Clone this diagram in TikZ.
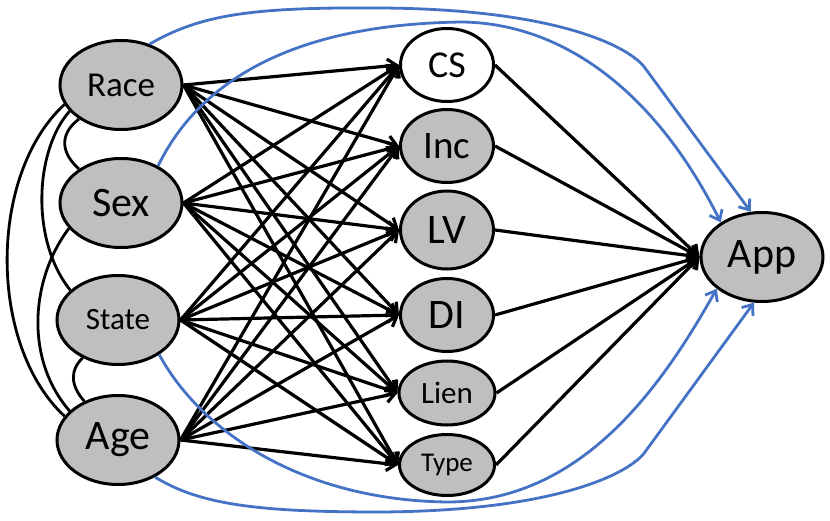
\documentclass[tikz,border=0pt]{standalone}
\usepackage{fontspec}
\setmainfont{Carlito}
\usepackage{tikz}
\usetikzlibrary{arrows.meta,shapes.geometric}

\definecolor{nodegray}{RGB}{191,191,191}
\definecolor{linkblue}{RGB}{68,114,196}

\begin{document}
\begin{tikzpicture}[x=1pt, y=1pt,
    var/.style={ellipse, draw, line width=3pt, fill=nodegray, inner sep=0pt,
                minimum width=122pt, minimum height=89pt},
    mid/.style={var, minimum width=93pt, minimum height=73pt},
    blk/.style={line width=3.2pt, -{Straight Barb[length=9pt,width=14pt]}},
    tie/.style={line width=2.8pt},
    dep/.style={line width=2.8pt, linkblue, -{Straight Barb[length=9pt,width=14pt]}}]

\useasboundingbox (0,0) rectangle (830,520);

\node[var, font=\fontsize{35}{35}\selectfont] (race) at (121,435) {Race};
\node[var, font=\fontsize{42}{42}\selectfont] (sex) at (121,317) {Sex};
\node[var, font=\fontsize{31}{31}\selectfont] (state) at (118,200) {State};
\node[var, font=\fontsize{42}{42}\selectfont] (age) at (118,80) {Age};

\node[mid, fill=white, font=\fontsize{38}{38}\selectfont] (cs) at (447,455) {CS};
\node[mid, font=\fontsize{39}{39}\selectfont] (inc) at (447,374) {Inc};
\node[mid, minimum height=78pt, font=\fontsize{42}{42}\selectfont] (lv) at (447,290) {LV};
\node[mid, font=\fontsize{42}{42}\selectfont] (di) at (447,205) {DI};
\node[mid, minimum width=96pt, minimum height=64pt, font=\fontsize{31}{31}\selectfont] (lien) at (447,127) {Lien};
\node[mid, minimum width=95pt, minimum height=61pt, font=\fontsize{27}{27}\selectfont] (type) at (447,55) {Type};

\node[var, font=\fontsize{42}{42}\selectfont] (app) at (762,263) {App};

\foreach \s in {race,sex,state,age}
{
    \foreach \t in {cs,inc,lv,di,lien,type}
    {
        \draw[blk] (\s.east) -- (\t.west);
    }
}

\foreach \t in {cs,inc,lv,di,lien,type}
{
    \draw[blk] (\t.east) -- (app.west);
}

\draw[tie] (race.-141) .. controls (58,385) and (62,366) .. (sex.141);
\draw[tie] (state.-133) .. controls (70,150) and (70,135) .. (age.131);
\draw[tie] (race.199) .. controls (-12,345) and (-12,175) .. (age.156);
\draw[tie] (race.207) .. controls (35,370) and (30,280) .. (state.148);
\draw[tie] (sex.206) .. controls (30,240) and (25,160) .. (age.149);

\draw[dep] (race.55) .. controls (200,505) and (250,513) .. (380,512)
    .. controls (560,511) and (631,472) .. (645,452) -- (app.104);
\draw[dep] (sex.45) .. controls (195,430) and (280,496) .. (463,498)
    .. controls (570,496) and (660,420) .. (app.140);
\draw[dep] (state.-40) .. controls (200,90) and (300,20) .. (447,18)
    .. controls (580,18) and (660,130) .. (app.215);
\draw[dep] (age.-45) .. controls (200,15) and (260,8) .. (380,8)
    .. controls (560,9) and (631,48) .. (645,68) -- (app.-100);

\end{tikzpicture}
\end{document}
